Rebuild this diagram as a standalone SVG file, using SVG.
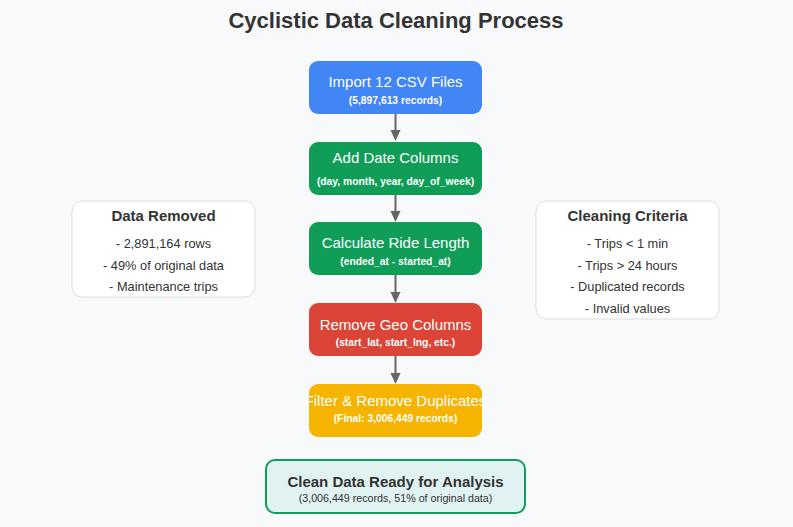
<svg xmlns="http://www.w3.org/2000/svg" width="793" height="527" viewBox="0 0 793 527">
<defs>
<style>
text{font-family:"Liberation Sans",Arial,sans-serif;text-anchor:middle}
.t{font-size:15px;fill:#fff}
.s{font-size:10.3px;font-weight:bold;fill:#fff}
.h{font-size:15px;font-weight:bold;fill:#333}
.l{font-size:12.8px;fill:#333}
.side{fill:#fff;stroke:#ddd;stroke-width:1}
.conn{stroke:#666;stroke-width:2;fill:none}
.head{fill:#666}
</style>
</defs>
<rect width="793" height="527" fill="#f8f9fa"/>
<text x="396" y="28" style="font-size:22px;font-weight:bold;fill:#333">Cyclistic Data Cleaning Process</text>
<g id="connectors">
<line class="conn" x1="395.5" y1="114" x2="395.5" y2="134"/>
<path class="head" d="M390.5,130 L400.5,130 L395.5,141 Z"/>
<line class="conn" x1="395.5" y1="195" x2="395.5" y2="214"/>
<path class="head" d="M390.5,211 L400.5,211 L395.5,222 Z"/>
<line class="conn" x1="395.5" y1="275" x2="395.5" y2="295"/>
<path class="head" d="M390.5,292 L400.5,292 L395.5,303 Z"/>
<line class="conn" x1="395.5" y1="356" x2="395.5" y2="376"/>
<path class="head" d="M390.5,373 L400.5,373 L395.5,384 Z"/>
</g>
<g id="import">
<rect x="309" y="61" width="173" height="53" rx="9" fill="#4285f4"/>
<text class="t" x="395.5" y="87">Import 12 CSV Files</text>
<text class="s" x="395.5" y="104">(5,897,613 records)</text>
</g>
<g id="dates">
<rect x="309" y="142" width="173" height="53" rx="9" fill="#0f9d58"/>
<text class="t" x="395.5" y="163">Add Date Columns</text>
<text class="s" x="395.5" y="185">(day, month, year, day_of_week)</text>
</g>
<g id="ridelength">
<rect x="309" y="222" width="173" height="53" rx="9" fill="#0f9d58"/>
<text class="t" x="395.5" y="248">Calculate Ride Length</text>
<text class="s" x="395.5" y="265">(ended_at - started_at)</text>
</g>
<g id="geo">
<rect x="309" y="303" width="173" height="53" rx="9" fill="#db4437"/>
<text class="t" x="395.5" y="330">Remove Geo Columns</text>
<text class="s" x="395.5" y="346">(start_lat, start_lng, etc.)</text>
</g>
<g id="filter">
<rect x="309" y="384" width="173" height="53" rx="9" fill="#f4b400"/>
<text class="t" x="395.5" y="406">Filter &amp; Remove Duplicates</text>
<text class="s" x="395.5" y="422">(Final: 3,006,449 records)</text>
</g>
<g id="removed">
<rect class="side" x="72" y="201" width="183" height="96" rx="10"/>
<text class="h" x="163.5" y="221">Data Removed</text>
<text class="l" x="163.5" y="248">- 2,891,164 rows</text>
<text class="l" x="163.5" y="270">- 49% of original data</text>
<text class="l" x="163.5" y="291">- Maintenance trips</text>
</g>
<g id="criteria">
<rect class="side" x="536" y="201" width="183" height="118" rx="10"/>
<text class="h" x="627.5" y="221">Cleaning Criteria</text>
<text class="l" x="627.5" y="248">- Trips &lt; 1 min</text>
<text class="l" x="627.5" y="270">- Trips &gt; 24 hours</text>
<text class="l" x="627.5" y="291">- Duplicated records</text>
<text class="l" x="627.5" y="313">- Invalid values</text>
</g>
<g id="clean">
<rect x="266" y="460" width="259" height="53" rx="9" fill="#e0f2f1" stroke="#0f9d58" stroke-width="2"/>
<text x="395.5" y="487" style="font-size:15px;font-weight:bold;fill:#333">Clean Data Ready for Analysis</text>
<text x="395.5" y="502" style="font-size:10.7px;fill:#333">(3,006,449 records, 51% of original data)</text>
</g>
</svg>
